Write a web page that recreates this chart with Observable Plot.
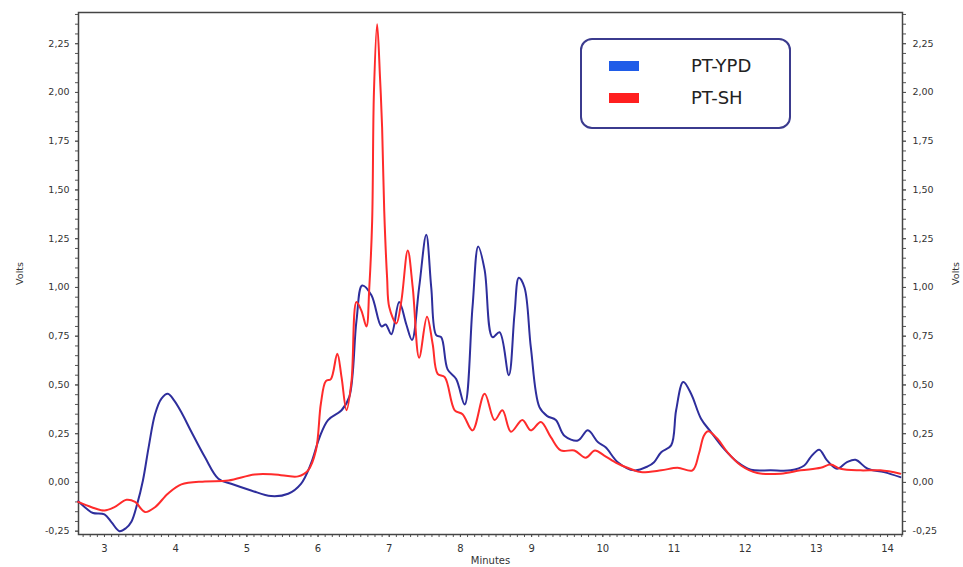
<!DOCTYPE html>
<html>
<head>
<meta charset="utf-8">
<script src="https://cdn.jsdelivr.net/npm/d3@7"></script>
<script src="https://cdn.jsdelivr.net/npm/@observablehq/plot@0.6"></script>
<style>
  html, body { margin: 0; padding: 0; background: #fff; }
  #wrap { position: relative; width: 963px; height: 567px; }
  #wrap svg text { font-family: "DejaVu Sans", sans-serif; }
  .legend { position: absolute; left: 580px; top: 38px; width: 207px; height: 87px;
    border: 2px solid #3b3b8e; border-radius: 12px; background: #fff;
    font-family: "DejaVu Sans", sans-serif; font-size: 18px; color: #222; }
  .legend .row { position: absolute; left: 0; display: flex; align-items: center; }
  .legend .sw { width: 30px; height: 10px; margin-left: 27px; margin-right: 52px; }
</style>
</head>
<body>
<div id="wrap"></div>
<script>
// ---- data ----
const seriesNames = ["PT-YPD", "PT-SH"];
const seriesColors = ["#2e2e9c", "#ff2b2b"];
const legendColors = ["#1f5ce8", "#ff1f1f"];

const ypdMinutes = [2.63,2.75,2.84,3.0,3.1,3.21,3.30,3.38,3.46,3.54,3.62,3.71,3.80,3.89,3.98,4.08,4.22,4.41,4.60,4.78,5.06,5.34,5.58,5.76,5.90,6.02,6.14,6.33,6.44,6.54,6.62,6.75,6.89,6.95,7.03,7.14,7.24,7.32,7.42,7.52,7.59,7.66,7.73,7.82,7.94,8.06,8.17,8.25,8.34,8.45,8.55,8.68,8.76,8.82,8.90,8.99,9.11,9.22,9.34,9.46,9.65,9.79,9.93,10.04,10.21,10.44,10.63,10.72,10.82,10.96,11.03,11.13,11.24,11.38,11.52,11.70,11.89,12.08,12.36,12.64,12.83,12.92,13.04,13.15,13.29,13.43,13.55,13.72,13.95,14.18];
const ypdVolts = [-0.097,-0.135,-0.157,-0.164,-0.205,-0.25,-0.235,-0.20,-0.11,0.01,0.18,0.35,0.43,0.455,0.42,0.36,0.26,0.13,0.019,-0.007,-0.041,-0.07,-0.058,-0.007,0.096,0.23,0.32,0.37,0.44,0.83,1.01,0.96,0.80,0.81,0.76,0.925,0.81,0.73,1.00,1.27,1.00,0.755,0.745,0.58,0.53,0.40,0.90,1.21,1.09,0.745,0.77,0.55,0.865,1.05,1.00,0.69,0.386,0.34,0.32,0.24,0.215,0.267,0.207,0.18,0.104,0.062,0.082,0.104,0.155,0.19,0.37,0.515,0.455,0.327,0.258,0.173,0.104,0.065,0.062,0.062,0.087,0.13,0.168,0.113,0.07,0.104,0.116,0.07,0.053,0.027];

const shMinutes = [2.63,2.82,3.0,3.14,3.31,3.43,3.57,3.71,3.89,4.08,4.41,4.74,5.11,5.39,5.72,5.86,5.97,6.04,6.11,6.18,6.27,6.33,6.40,6.47,6.54,6.61,6.68,6.72,6.76,6.785,6.83,6.87,6.90,6.93,6.97,7.00,7.10,7.17,7.26,7.33,7.42,7.53,7.61,7.68,7.78,7.92,8.03,8.17,8.34,8.48,8.59,8.71,8.87,8.99,9.13,9.27,9.41,9.60,9.76,9.89,10.02,10.21,10.42,10.53,10.82,11.05,11.26,11.35,11.42,11.48,11.61,11.75,11.94,12.17,12.50,12.78,13.06,13.20,13.34,13.62,13.90,14.18];
const shVolts = [-0.10,-0.127,-0.144,-0.127,-0.089,-0.10,-0.152,-0.127,-0.058,-0.01,0.005,0.01,0.041,0.041,0.031,0.062,0.164,0.405,0.52,0.53,0.66,0.54,0.37,0.52,0.925,0.88,0.80,1.00,1.34,2.0,2.35,2.08,1.82,1.39,1.05,0.90,0.815,0.93,1.19,1.00,0.64,0.85,0.71,0.557,0.54,0.37,0.35,0.267,0.455,0.32,0.37,0.26,0.32,0.267,0.31,0.232,0.164,0.164,0.127,0.164,0.138,0.096,0.065,0.053,0.062,0.075,0.062,0.147,0.24,0.263,0.224,0.155,0.087,0.048,0.045,0.062,0.075,0.092,0.07,0.062,0.062,0.045];

const xTickLabels = [3,4,5,6,7,8,9,10,11,12,13,14];
const yTickLabels = [-0.25,0,0.25,0.5,0.75,1.0,1.25,1.5,1.75,2.0,2.25];
const xMinorTicks = d3.range(27, 143).map(d => d / 10);
const yMinorTicks = d3.range(-5, 49).map(d => d / 20);
const xAxisTitle = "Minutes";
const yAxisTitle = "Volts";

// ---- build table ----
const rows = [
  ...ypdMinutes.map((t, i) => ({t, v: ypdVolts[i], s: seriesNames[0]})),
  ...shMinutes.map((t, i) => ({t, v: shVolts[i], s: seriesNames[1]}))
];
const fmt = d => d.toFixed(2).replace(".", ",");
const none = () => "";

const chart = Plot.plot({
  width: 963,
  height: 567,
  marginLeft: 78,
  marginRight: 61,
  marginTop: 12,
  marginBottom: 33,
  x: {domain: [2.635, 14.21]},
  y: {domain: [-0.267, 2.41]},
  color: {domain: seriesNames, range: seriesColors},
  style: {fontSize: "10px", color: "#333", background: "#fff"},
  marks: [
    Plot.axisY(yMinorTicks, {anchor: "left", tickSize: 3, tickFormat: none, label: null, stroke: "#555"}),
    Plot.axisY(yMinorTicks, {anchor: "right", tickSize: 3, tickFormat: none, label: null, stroke: "#555"}),
    Plot.axisX(xMinorTicks, {anchor: "bottom", tickSize: 3, tickFormat: none, label: null, stroke: "#555"}),
    Plot.axisY(yTickLabels, {anchor: "left", tickSize: 3, tickPadding: 6, tickFormat: fmt,
      label: yAxisTitle, labelAnchor: "center", labelOffset: 62, labelArrow: "none", stroke: "#555", fontSize: 9.5}),
    Plot.axisY(yTickLabels, {anchor: "right", tickSize: 3, tickPadding: 7, tickFormat: fmt,
      label: yAxisTitle, labelAnchor: "center", labelOffset: 56, labelArrow: "none", stroke: "#555", fontSize: 9.5}),
    Plot.axisX(xTickLabels, {anchor: "bottom", tickSize: 3, tickPadding: 7, tickFormat: d => String(d),
      label: xAxisTitle, labelAnchor: "center", labelOffset: 29, labelArrow: "none", stroke: "#555", fontSize: 10}),
    Plot.frame({stroke: "#444", strokeWidth: 1.5}),
    Plot.line(rows, {x: "t", y: "v", z: "s", stroke: "s", strokeWidth: 2, curve: "catmull-rom"})
  ]
});

const wrap = document.getElementById("wrap");
wrap.appendChild(chart);

// legend (drawn over the plot area, as in the reference)
const lg = document.createElement("div");
lg.className = "legend";
seriesNames.forEach((name, i) => {
  const row = document.createElement("div");
  row.className = "row";
  row.style.top = (i === 0 ? 15 : 47) + "px";
  const sw = document.createElement("span");
  sw.className = "sw";
  sw.style.background = legendColors[i];
  const tx = document.createElement("span");
  tx.textContent = name;
  row.appendChild(sw);
  row.appendChild(tx);
  lg.appendChild(row);
});
wrap.appendChild(lg);
</script>
</body>
</html>
